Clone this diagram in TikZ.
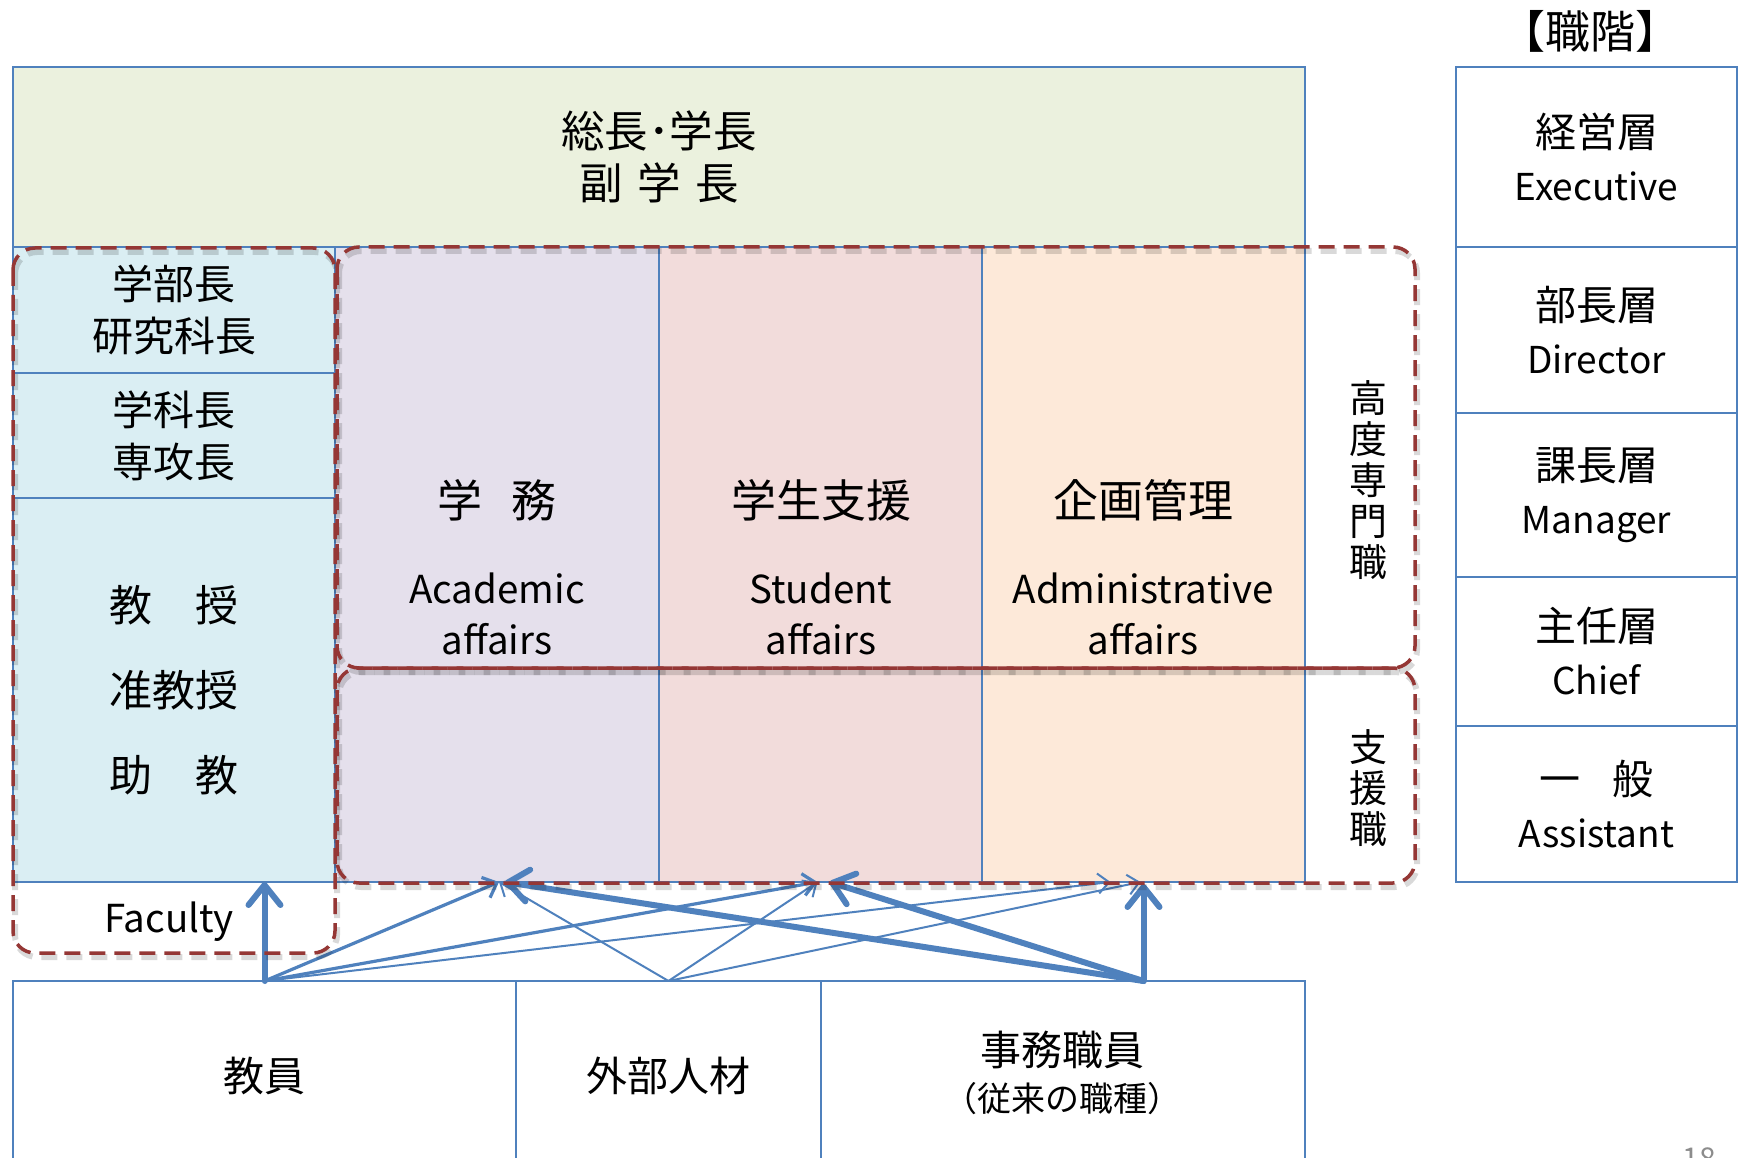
\documentclass[tikz,border=0pt]{standalone}
\usepackage{fontspec}
\setmainfont{Noto Sans CJK JP}
\usetikzlibrary{arrows.meta}
\definecolor{bordblue}{HTML}{4F81BD}
\definecolor{arrblue}{HTML}{4F81BD}
\definecolor{dred}{HTML}{953735}
\definecolor{fgreen}{HTML}{EBF1DE}
\definecolor{fblue}{HTML}{DAEEF3}
\definecolor{flav}{HTML}{E5E0EC}
\definecolor{fpink}{HTML}{F2DCDB}
\definecolor{fpeach}{HTML}{FDE9D9}
\definecolor{pagegray}{HTML}{8C8C8C}
\newcommand\FsTitle{\fontsize{43.5}{52}\selectfont}
\newcommand\FsMid{\fontsize{41}{52}\selectfont}
\newcommand\FsRank{\fontsize{41}{53}\selectfont}
\newcommand\FsRankEng{\fontsize{37}{44}\selectfont}
\newcommand\FsFac{\fontsize{43}{85}\selectfont}
\newcommand\FsEng{\fontsize{38.5}{51}\selectfont}
\newcommand\FsCol{\fontsize{45}{52}\selectfont}
\newcommand\FsVert{\fontsize{38}{41}\selectfont}
\newcommand\FsBot{\fontsize{41}{52}\selectfont}
\newcommand\FsParen{\fontsize{34}{40}\selectfont}
\newcommand\FsHead{\fontsize{45}{50}\selectfont}
\newcommand\FsPage{\fontsize{30}{34}\selectfont}
\begin{document}
\begin{tikzpicture}[x=1pt,y=-1pt,
  cell/.style={draw=bordblue, line width=1.5pt, inner sep=0pt, outer sep=0pt,
    anchor=north west, align=center},
  rank/.style={cell, minimum width=281, font=\FsRank},
  txt/.style={inner sep=0pt, align=center},
  dashbox/.style={draw=dred, line width=3.5pt, dash pattern=on 16pt off 9pt,
    rounded corners=22pt},
  dashshadow/.style={draw=black, opacity=0.15, line width=6pt,
    dash pattern=on 16pt off 9pt, rounded corners=22pt},
  thickarr/.style={draw=arrblue, line width=6pt, line cap=round,
    -{Straight Barb[length=20pt,width=32pt,round]}},
  medarr/.style={draw=arrblue, line width=3.2pt,
    -{Straight Barb[length=12pt,width=22pt]}},
  thinarr/.style={draw=arrblue, line width=2pt,
    -{Straight Barb[length=11pt,width=20pt]}},
]
\clip (0,0) rectangle (1740,1158);
\fill[white] (0,0) rectangle (1740,1158);

% top box
\node[cell, fill=fgreen, minimum width=1292, minimum height=180, font=\FsTitle] (top) at (13,67)
  {総長･学長\\副\hspace{0.33em}学\hspace{0.33em}長};

% left (faculty) column
\node[cell, fill=fblue, minimum width=322, minimum height=126, font=\FsMid] (dean) at (13,247)
  {学部長\\研究科長};
\node[cell, fill=fblue, minimum width=322, minimum height=125, font=\FsMid] (chair) at (13,373)
  {学科長\\専攻長};
\node[cell, fill=fblue, minimum width=322, minimum height=384, font=\FsFac] (fac) at (13,498)
  {教\hspace{1em}授\\准教授\\助\hspace{1em}教};

% staff columns
\node[cell, fill=flav, minimum width=324, minimum height=635] (acad) at (335,247) {};
\node[cell, fill=fpink, minimum width=323, minimum height=635] (stud) at (659,247) {};
\node[cell, fill=fpeach, minimum width=323, minimum height=635] (admin) at (982,247) {};

\node[txt, font=\FsCol] (acadT) at (497,500) {学\hspace{0.65em}務};
\node[txt, font=\FsEng] (acadE) at (497,614) {Academic\\affairs};
\node[txt, font=\FsCol] (studT) at (821,500) {学生支援};
\node[txt, font=\FsEng] (studE) at (821,614) {Student\\affairs};
\node[txt, font=\FsCol] (adminT) at (1143,500) {企画管理};
\node[txt, font=\FsEng] (adminE) at (1143,614) {Administrative\\affairs};

% vertical labels
\node[txt, font=\FsVert] (koudo) at (1368,480) {高\\度\\専\\門\\職};
\node[txt, font=\FsVert] (shien) at (1368,788) {支\\援\\職};

% rank column
\node[txt, font=\FsHead] (shokkai) at (1590,31) {【職階】};
\node[rank, minimum height=180] (exec) at (1456,67)
  {経営層\\{\FsRankEng Executive}};
\node[rank, minimum height=166] (dir) at (1456,247)
  {部長層\\{\FsRankEng Director}};
\node[rank, minimum height=164] (mgr) at (1456,413)
  {課長層\\{\FsRankEng Manager}};
\node[rank, minimum height=149] (chief) at (1456,577)
  {主任層\\{\FsRankEng Chief}};
\node[rank, minimum height=156] (asst) at (1456,726)
  {一\hspace{0.8em}般\\{\FsRankEng Assistant}};

% bottom boxes
\node[cell, minimum width=503, minimum height=190, font=\FsBot] (kyoin) at (13,981) {教員};
\node[cell, minimum width=305, minimum height=190, font=\FsBot] (gaibu) at (516,981) {外部人材};
\node[cell, minimum width=484, minimum height=190] (jimu) at (821,981) {};
\node[txt, font=\FsBot] (jimuT) at (1062,1050) {事務職員};
\node[txt, font=\FsParen] (jimuP) at (1062,1099) {（従来の職種）};

\node[txt, font=\FsEng] (faclbl) at (169,922) {Faculty};

% arrow end points
\coordinate (sK) at (kyoin.north);
\coordinate (sG) at (gaibu.north);
\coordinate (sJ) at (admin.south |- jimu.north);
\coordinate (tF) at (kyoin.north |- fac.south);
\coordinate (tA) at ([xshift=2pt]acad.south);
\coordinate (tA2) at ([xshift=8pt]acad.south);
\coordinate (tS) at ([xshift=-3pt]stud.south);
\coordinate (tS2) at ([xshift=9pt]stud.south);
\coordinate (tM1) at ([xshift=-33pt]admin.south);
\coordinate (tM2) at ([xshift=-3pt]admin.south);
\coordinate (tM3) at ([yshift=-2pt]admin.south);

\draw[thinarr] (sK) -- (tM1);
\draw[thinarr] (sG) -- (tA);
\draw[thinarr] (sG) -- (tS);
\draw[thinarr] (sG) -- (tM2);
\draw[medarr] (sK) -- (tA);
\draw[medarr] (sK) -- (tS);
\draw[thickarr] (sJ) -- (tA2);
\draw[thickarr] (sJ) -- (tS2);
\draw[thickarr] (sK) -- (tF);
\draw[thickarr] (sJ) -- (tM3);

% dashed groupings
\draw[dashshadow] (15,252) rectangle (337,957);
\draw[dashshadow] (339,251) rectangle (1417,672);
\draw[dashshadow] (339,672) rectangle (1417,887);
\draw[dashbox] (13,248) rectangle (335,953);
\draw[dashbox] (337,247) rectangle (1415,668);
\draw[dashbox] (337,668) rectangle (1415,883);

\node[txt, font=\FsPage, text=pagegray, anchor=base] (pg) at (1699,1169) {18};
\end{tikzpicture}
\end{document}
